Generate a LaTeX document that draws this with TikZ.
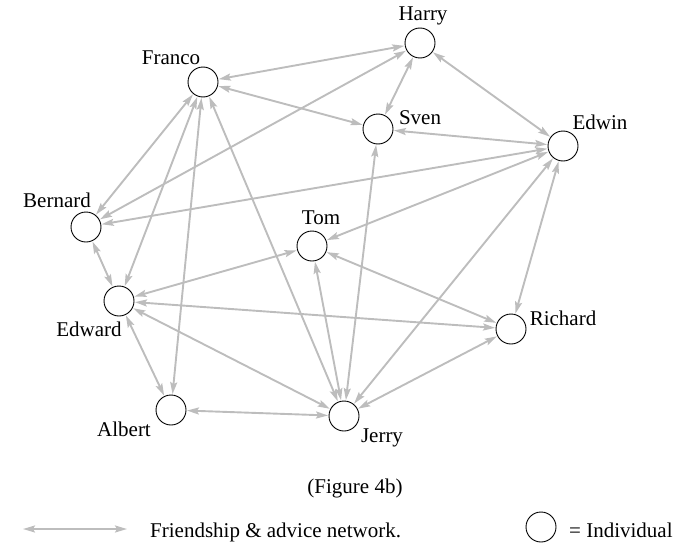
\documentclass[tikz,border=0pt]{standalone}
\usepackage{fontspec}
\setmainfont{Liberation Serif}
\usetikzlibrary{arrows.meta}
\begin{document}
\begin{tikzpicture}[x=1pt,y=-1pt,
  person/.style={circle,draw=black,line width=0.9pt,minimum size=30pt,inner sep=0pt},
  lbl/.style={anchor=base,inner sep=0pt,font=\fontsize{21}{25}\selectfont},
  link/.style={draw=black!26,line width=1.9pt,
    {Stealth[length=12pt,width=7pt,inset=2pt]}-{Stealth[length=12pt,width=7pt,inset=2pt]},
    shorten <=0.5pt,shorten >=0.5pt}]
\useasboundingbox (0,0) rectangle (684,543);
% individuals
\node[person] (harry) at (420,43) {};
\node[person] (franco) at (203,82) {};
\node[person] (sven) at (378,129) {};
\node[person] (edwin) at (563,146) {};
\node[person] (bernard) at (86,227) {};
\node[person] (tom) at (312,246) {};
\node[person] (edward) at (119,301) {};
\node[person] (richard) at (511,329) {};
\node[person] (albert) at (171,410) {};
\node[person] (jerry) at (344,416) {};
% labels
\node[lbl] (lharry) at (423,21) {Harry};
\node[lbl] (lfranco) at (171,64) {Franco};
\node[lbl] (lsven) at (420,124) {Sven};
\node[lbl] (ledwin) at (600,129) {Edwin};
\node[lbl] (lbernard) at (57,207) {Bernard};
\node[lbl] (ltom) at (321,224) {Tom};
\node[lbl] (ledward) at (89,336) {Edward};
\node[lbl] (lalbert) at (124,436) {Albert};
\node[lbl] (lrichard) at (563,325) {Richard};
\node[lbl] (ljerry) at (382,442) {Jerry};
% connections
\draw[link] (harry) -- (franco);
\draw[link] (harry) -- (bernard);
\draw[link] (harry) -- (sven);
\draw[link] (harry) -- (edwin);
\draw[link] (franco) -- (sven);
\draw[link] (sven) -- (edwin);
\draw[link] (bernard) -- (edwin);
\draw[link] (edwin) -- (tom);
\draw[link] (edwin) -- (jerry);
\draw[link] (edwin) -- (richard);
\draw[link] (franco) -- (bernard);
\draw[link] (franco) -- (edward);
\draw[link] (franco) -- (albert);
\draw[link] (franco) -- (jerry);
\draw[link] (bernard) -- (edward);
\draw[link] (tom) -- (edward);
\draw[link] (edward) -- (richard);
\draw[link] (edward) -- (jerry);
\draw[link] (edward) -- (albert);
\draw[link] (albert) -- (jerry);
\draw[link] (tom) -- (jerry);
\draw[link] (tom) -- (richard);
\draw[link] (sven) -- (jerry);
\draw[link] (richard) -- (jerry);
% caption and legend
\node[lbl] (caption) at (355,493) {(Figure 4b)};
\coordinate (legA) at (23,529);
\coordinate (legB) at (127,529);
\draw[link,shorten <=0pt,shorten >=0pt] (legA) -- (legB);
\node[lbl,anchor=base west] (legtext) at (150,537) {Friendship \& advice network.};
\node[person] (legcircle) at (541,527) {};
\node[lbl,anchor=base west] (legind) at (569,537) {= Individual};
\end{tikzpicture}
\end{document}
